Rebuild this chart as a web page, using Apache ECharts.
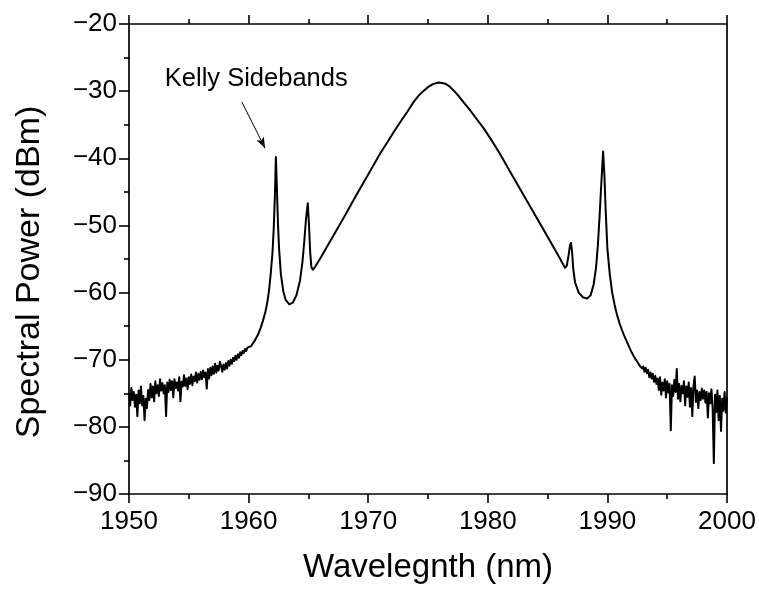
<!DOCTYPE html>
<html>
<head>
<meta charset="utf-8">
<script src="https://cdn.jsdelivr.net/npm/echarts@6/dist/echarts.min.js"></script>
<style>
html,body{margin:0;padding:0;background:#fff;}
#chart{width:759px;height:589px;}
</style>
</head>
<body>
<div id="chart"></div>
<script>
// ---- Data ----
// Noisy left wing: samples every 0.1 nm starting at 1950.0 nm
var leftNoiseStart = 1950.0;
var leftNoiseStep = 0.1;
var leftNoisePower = [
 -75.0,-76.8,-74.2,-76.0,-74.8,-77.0,-75.2,-78.4,-74.6,-76.5,
 -74.0,-76.8,-75.4,-79.0,-75.8,-77.2,-74.5,-76.0,-73.6,-75.6,
 -74.0,-76.2,-73.2,-75.0,-73.8,-75.4,-72.9,-74.6,-73.5,-75.0,
 -73.8,-78.4,-73.4,-74.8,-73.0,-74.5,-73.2,-75.6,-72.9,-74.2,
 -73.4,-74.6,-72.6,-76.2,-73.3,-74.0,-72.3,-73.9,-72.8,-74.4,
 -72.6,-73.6,-72.2,-73.8,-72.5,-73.2,-71.9,-73.4,-72.1,-73.0,
 -71.8,-72.9,-71.6,-72.6,-71.9,-74.3,-71.4,-72.8,-71.2,-72.3,
 -71.0,-72.1,-70.6,-71.9,-70.9,-71.6,-70.3,-70.9,-71.8,-70.7,
 -71.5,-70.5,-71.3,-70.2,-70.9,-70.0,-70.6,-69.7,-70.2,-69.4,
 -70.0,-69.2,-69.7,-68.9,-69.3,-68.7,-69.0,-68.4,-68.7,-68.2,
 -68.3
];

// Smooth central part (wavelength nm, power dBm)
var midWavelength = [
 1960.2,1960.5,1960.8,1961.0,1961.2,1961.4,1961.55,1961.7,1961.85,1962.0,
 1962.1,1962.2,1962.28,1962.36,1962.45,1962.55,1962.7,1962.9,1963.1,1963.4,
 1963.7,1964.0,1964.3,1964.5,1964.65,1964.8,1964.95,1965.05,1965.15,1965.25,
 1965.37,1965.55,1966.0,1967.0,1968.0,1969.0,1970.0,1971.0,1971.6,1972.2,
 1972.8,1973.3,1973.8,1974.2,1974.6,1975.0,1975.4,1975.9,1976.4,1976.8,
 1977.2,1977.6,1978.0,1978.5,1979.0,1979.6,1980.2,1981.0,1982.0,1983.0,
 1984.0,1985.0,1986.0,1986.45,1986.6,1986.75,1986.88,1986.96,1987.05,1987.15,
 1987.3,1987.6,1987.95,1988.3,1988.6,1988.85,1989.05,1989.2,1989.35,1989.5,
 1989.64,1989.75,1989.85,1990.0,1990.2,1990.4,1990.6,1990.8,1991.0,1991.2,
 1991.4,1991.7,1992.0,1992.3,1992.5
];
var midPower = [
 -68.0,-67.2,-66.2,-65.3,-64.2,-62.9,-61.6,-59.8,-57.2,-54.0,
 -50.5,-45.5,-39.8,-44.0,-49.5,-53.5,-57.3,-59.8,-61.1,-61.75,
 -61.5,-60.4,-58.2,-55.5,-52.5,-49.0,-46.7,-50.0,-54.0,-56.2,
 -56.6,-56.2,-54.9,-51.8,-48.7,-45.5,-42.4,-39.3,-37.6,-35.9,
 -34.3,-33.0,-31.6,-30.7,-30.0,-29.4,-28.95,-28.7,-28.85,-29.3,
 -30.0,-30.8,-31.7,-32.8,-34.0,-35.4,-37.0,-39.3,-42.4,-45.5,
 -48.6,-51.7,-54.8,-56.3,-56.0,-54.5,-52.9,-52.6,-54.0,-56.6,
 -58.5,-60.0,-60.7,-60.9,-60.4,-58.8,-56.3,-53.0,-48.5,-43.5,
 -39.0,-42.5,-47.5,-53.5,-57.3,-60.0,-61.8,-63.3,-64.5,-65.5,
 -66.4,-67.6,-68.8,-69.8,-70.3
];

// Noisy right wing: samples every 0.1 nm starting at 1992.6 nm
var rightNoiseStart = 1992.6;
var rightNoiseStep = 0.1;
var rightNoisePower = [
 -70.6,-70.9,-70.7,-71.3,-71.0,-71.8,-71.2,-72.0,-71.5,-72.6,
 -71.9,-72.8,-72.1,-73.3,-72.4,-73.6,-72.8,-74.5,-72.6,-75.2,
 -73.4,-74.6,-72.9,-75.6,-73.2,-74.9,-73.6,-80.5,-73.8,-75.4,
 -73.0,-74.8,-71.4,-75.8,-73.6,-76.2,-73.9,-75.0,-73.2,-76.8,
 -74.0,-75.5,-73.4,-77.0,-74.2,-78.4,-73.9,-72.5,-76.3,-74.6,
 -77.2,-74.8,-76.0,-74.3,-75.8,-74.6,-76.4,-74.8,-78.6,-75.0,
 -76.5,-74.4,-77.2,-85.4,-75.2,-77.8,-74.6,-79.0,-75.4,-80.6,
 -75.8,-77.6,-74.8,-77.9,-75.6
];

// Axis ticks
var xTicks = {min: 1950, max: 2000, step: 10};
var yTicks = {min: -90, max: -20, step: 10};

// Annotation (data coordinates)
var annotationText = 'Kelly Sidebands';
var annotationTextAt = [1960.64, -28.2];
var annotationArrow = [[1959.43, -31.6], [1961.38, -38.5]];

// ---- Build the series data ----
var spectrum = [];
leftNoisePower.forEach(function (p, i) {
  spectrum.push([+(leftNoiseStart + i * leftNoiseStep).toFixed(2), p]);
});
midWavelength.forEach(function (w, i) { spectrum.push([w, midPower[i]]); });
rightNoisePower.forEach(function (p, i) {
  spectrum.push([+(rightNoiseStart + i * rightNoiseStep).toFixed(2), p]);
});

var FONT = "'Liberation Sans', Arial, Helvetica, sans-serif";
var chart = echarts.init(document.getElementById('chart'), null, {renderer: 'canvas'});

var axisLine = {show: true, onZero: false, lineStyle: {color: '#000', width: 1.7}};

chart.setOption({
  animation: false,
  backgroundColor: '#fff',
  grid: {left: 129, right: 32, top: 24, bottom: 95, containLabel: false},
  xAxis: [{
    type: 'value', position: 'bottom',
    min: xTicks.min, max: xTicks.max, interval: xTicks.step,
    name: 'Wavelegnth (nm)', nameLocation: 'middle', nameGap: 57,
    nameTextStyle: {fontFamily: FONT, fontSize: 33, color: '#000'},
    axisLine: axisLine,
    axisTick: {show: true, inside: false, length: 9, lineStyle: {color: '#000', width: 1.6}},
    minorTick: {show: true, splitNumber: 2, length: 5, lineStyle: {color: '#000', width: 1.6}},
    axisLabel: {fontFamily: FONT, fontSize: 26, color: '#000', margin: 15,
      formatter: function (v) { return String(v); }},
    splitLine: {show: false}
  }, {
    type: 'value', position: 'top',
    min: xTicks.min, max: xTicks.max, interval: xTicks.step,
    axisLine: axisLine,
    axisTick: {show: true, inside: false, length: 9, lineStyle: {color: '#000', width: 1.6}},
    minorTick: {show: true, splitNumber: 2, length: 5, lineStyle: {color: '#000', width: 1.6}},
    axisLabel: {show: false},
    splitLine: {show: false}
  }],
  yAxis: [{
    type: 'value', position: 'left',
    min: yTicks.min, max: yTicks.max, interval: yTicks.step,
    name: 'Spectral Power (dBm)', nameLocation: 'middle', nameGap: 82, nameRotate: 90,
    nameTextStyle: {fontFamily: FONT, fontSize: 34, color: '#000', padding: [0, 26, 0, 0]},
    axisLine: axisLine,
    axisTick: {show: true, inside: false, length: 10, lineStyle: {color: '#000', width: 1.6}},
    minorTick: {show: true, splitNumber: 2, length: 5, lineStyle: {color: '#000', width: 1.6}},
    axisLabel: {fontFamily: FONT, fontSize: 26, color: '#000', margin: 12,
      formatter: function (v) { return String(v).replace('-', '\u2212'); }},
    splitLine: {show: false}
  }, {
    type: 'value', position: 'right',
    min: yTicks.min, max: yTicks.max, interval: yTicks.step,
    axisLine: axisLine,
    axisTick: {show: false},
    axisLabel: {show: false},
    splitLine: {show: false}
  }],
  series: [{
    type: 'line',
    xAxisIndex: 0, yAxisIndex: 0,
    data: spectrum,
    showSymbol: false, symbol: 'none',
    smooth: false,
    lineStyle: {color: '#000', width: 2, join: 'round'},
    z: 3,
    markLine: {
      silent: true,
      symbol: ['none', 'arrow'],
      symbolSize: [6, 11],
      label: {show: false},
      lineStyle: {color: '#000', width: 1, type: 'solid'},
      data: [[{coord: annotationArrow[0]}, {coord: annotationArrow[1]}]]
    },
    markPoint: {
      silent: true,
      symbol: 'circle', symbolSize: 0,
      label: {show: true, position: 'inside', formatter: annotationText,
        fontFamily: FONT, fontSize: 25.5, color: '#000'},
      data: [{coord: annotationTextAt}]
    }
  }]
});
</script>
</body>
</html>
